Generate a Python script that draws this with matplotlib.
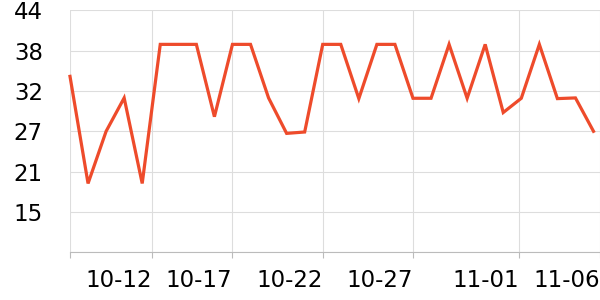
import matplotlib
matplotlib.use("Agg")
import matplotlib.pyplot as plt
import numpy as np

values = [34.5, 19.1, 26.6, 31.4, 19.1, 39.1, 39.1, 39.1, 28.7, 39.1,
          39.1, 31.4, 26.3, 26.5, 39.1, 39.1, 31.3, 39.1, 39.1, 31.35,
          31.35, 39.1, 31.35, 39.1, 29.3, 31.35, 39.1, 31.3, 31.4, 26.6]
x_tick_labels = ["", "10-12", "10-17", "10-22", "10-27", "11-01", "11-06"]
x_tick_pos = [0, 4.55, 9.0, 14.0, 19.0, 24.85, 29.36]
y_ticks = [9.2, 15.0, 20.8, 26.6, 32.4, 38.2, 44.0]
y_tick_labels = ["", "15", "21", "27", "32", "38", "44"]

fig = plt.figure(figsize=(6, 3), dpi=100)
ax = fig.add_axes([70/600, 1-252.3/300, 1-70/600, (252.3-10.3)/300])
x = np.arange(len(values))
ax.plot(x, values, color="#ee4b2b", lw=2.3, solid_joinstyle="miter", zorder=3, clip_on=False)
ax.set_xlim(0, 29.36)
ax.set_ylim(9.2, 44.0)
ax.set_xticks(x_tick_pos)
ax.set_xticklabels(x_tick_labels, ha="right", fontsize=16.5)
ax.set_yticks(y_ticks)
ax.set_yticklabels(y_tick_labels, fontsize=16.5)
ax.grid(True, color="#dddddd", lw=0.8)
for s in ["top", "right", "left"]:
    ax.spines[s].set_visible(False)
ax.spines["bottom"].set_color("#bbbbbb")
ax.spines["bottom"].set_linewidth(0.8)
ax.tick_params(axis="x", length=4, color="#bbbbbb", pad=8, labelcolor="black")
ax.tick_params(axis="y", length=0, pad=19.5, labelcolor="black")
fig.savefig("out.png", dpi=100)
